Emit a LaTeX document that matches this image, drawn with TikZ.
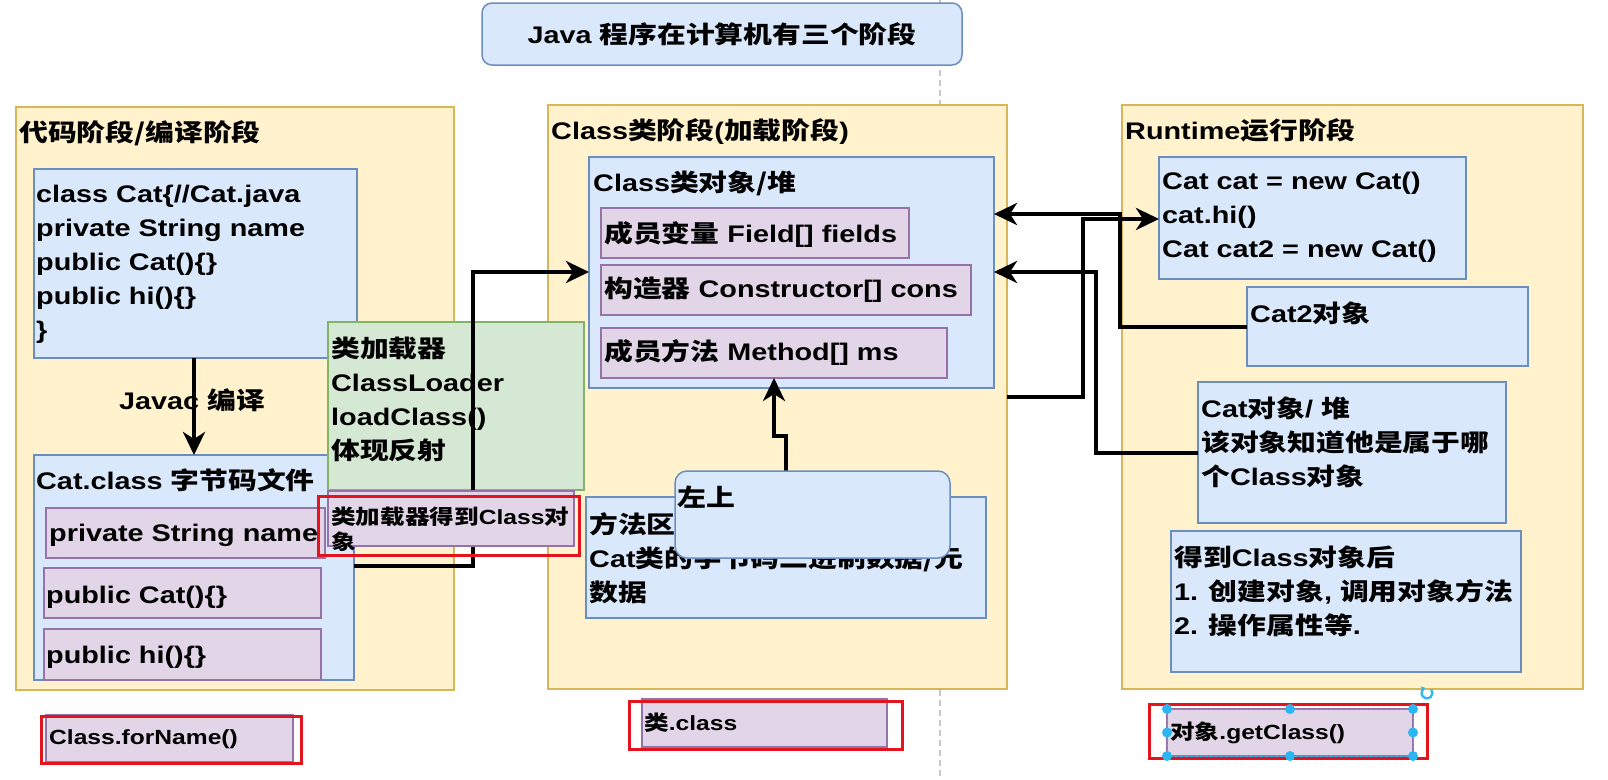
\documentclass[tikz,border=0pt]{standalone}
\usepackage{fontspec}
\setmainfont{Liberation Sans}[FakeStretch=1.2]
\newfontfamily\cjkf{Noto Sans CJK SC}[FakeStretch=1.2]
\newcommand\zh[1]{{\cjkf #1}}
\usetikzlibrary{arrows.meta}
\definecolor{ylwF}{HTML}{FFF2CC}
\definecolor{ylwD}{HTML}{D6B656}
\definecolor{bluF}{HTML}{DAE8FC}
\definecolor{bluD}{HTML}{6C8EBF}
\definecolor{grnF}{HTML}{D5E8D4}
\definecolor{grnD}{HTML}{82B366}
\definecolor{purF}{HTML}{E1D5E7}
\definecolor{purD}{HTML}{9673A6}
\definecolor{redD}{HTML}{E3141E}
\definecolor{selB}{HTML}{29B6F2}
\definecolor{sepG}{HTML}{C8C8C8}
\tikzset{
  panel/.style={fill=ylwF, draw=ylwD, line width=1.5pt},
  bluebox/.style={fill=bluF, draw=bluD, line width=1.5pt},
  greenbox/.style={fill=grnF, draw=grnD, line width=1.5pt},
  purplebox/.style={fill=purF, draw=purD, line width=1.5pt},
  redmark/.style={draw=redD, line width=3pt},
  txt/.style={anchor=west, inner sep=0pt, align=left, font=\fontsize{24}{34}\selectfont\bfseries},
  smalltxt/.style={anchor=west, inner sep=0pt, align=left, font=\fontsize{20.5}{25}\selectfont\bfseries},
  conn/.style={line width=4.5pt, -{Stealth[length=23pt,width=22pt,inset=7pt]}},
  handle/.style={fill=selB, draw=none},
}
\newcommand\mkbox[6]{\node[#1, anchor=north west, inner sep=0pt, outer sep=0pt, minimum width=#5pt-#3pt, minimum height=#6pt-#4pt] (#2) at (#3,#4) {};}
\begin{document}
\begin{tikzpicture}[x=1pt,y=-1pt]
\useasboundingbox (0,0) rectangle (1608,779);
% separator
\draw[sepG, line width=1.2pt, dash pattern=on 6pt off 4pt] (940,0) -- (940,779);
% title
\mkbox{bluebox,rounded corners=10pt}{title}{482}{3}{962}{65}
\node[txt, anchor=center] (titleT) at (722,34) {Java \zh{程序在计算机有三个阶段}};
% panels
\mkbox{panel}{pL}{16}{107}{454}{690}
\mkbox{panel}{pM}{548}{105}{1007}{689}
\mkbox{panel}{pR}{1122}{105}{1583}{689}
\node[txt] (pLT) at (19,133) {\zh{代码阶段/编译阶段}};
\node[txt] (pMT) at (551,132) {Class\zh{类阶段}(\zh{加载阶段})};
\node[txt] (pRT) at (1125,130) {Runtime\zh{运行阶段}};
% left column
\mkbox{bluebox}{code}{34}{169}{357}{358}
\node[txt] (codeT) at (36,264.5) {class Cat\{//Cat.java\\private String name\\public Cat()\{\}\\public hi()\{\}\\\}};
\mkbox{bluebox}{bytecode}{34}{455}{354}{680}
\node[txt] (bytecodeT) at (36,480) {Cat.class \zh{字节码文件}};
\mkbox{purplebox}{fName}{46}{508}{325}{558}
\node[txt] (fNameT) at (49,535) {private String name};
\mkbox{purplebox}{fCons}{44}{568}{321}{618}
\node[txt] (fConsT) at (46,597) {public Cat()\{\}};
\mkbox{purplebox}{fHi}{44}{629}{321}{680}
\node[txt] (fHiT) at (46,657) {public hi()\{\}};
\node[txt, anchor=center] (javacT) at (192,400) {Javac \zh{编译}};
\draw[conn] (code.south west) ++(160,0) coordinate (a1) -- (a1 |- bytecode.north);
\mkbox{greenbox}{loader}{328}{322}{584}{490}
\node[txt] (loaderT) at (331,399) {\zh{类加载器}\\ClassLoader\\loadClass()\\\zh{体现反射}};
% middle column
\mkbox{bluebox}{clsobj}{589}{157}{994}{388}
\node[txt] (clsobjT) at (593,183) {Class\zh{类对象/堆}};
\mkbox{purplebox}{field}{601}{208}{909}{258}
\node[txt] (fieldT) at (604,235) {\zh{成员变量} Field[] fields};
\mkbox{purplebox}{cons}{601}{265}{971}{315}
\node[txt] (consT) at (604,290) {\zh{构造器} Constructor[] cons};
\mkbox{purplebox}{meth}{601}{328}{947}{378}
\node[txt] (methT) at (604,353) {\zh{成员方法} Method[] ms};
\mkbox{bluebox}{marea}{586}{497}{986}{618}
\node[txt] (mareaT) at (589,558) {\zh{方法区}\\Cat\zh{类的字节码二进制数据/元}\\\zh{数据}};
\coordinate (m1) at (786,436);
\coordinate (m2) at (774,436);
\draw[conn] (m1 |- 0,471) -- (m1) -- (m2) -- (meth.south -| m2);
\mkbox{bluebox,rounded corners=12pt}{zuoshang}{675}{471}{950}{558}
\node[txt] (zuoshangT) at (677,497) {\zh{左上}};
% connector bytecode -> class object
\coordinate (k1) at (473,566);
\coordinate (k2) at (473,272);
\draw[conn] (bytecode.east |- k1) -- (k1) -- (k2) -- (clsobj.west |- k2);
\mkbox{purplebox}{gotcls}{328}{491}{574}{546}
\node[smalltxt] (gotclsT) at (331,529.5) {\zh{类加载器得到}Class\zh{对}\\\zh{象}};
\mkbox{redmark}{gotclsR}{318}{496}{579}{555}
% right column
\mkbox{bluebox}{catbox}{1159}{157}{1466}{279}
\node[txt] (catboxT) at (1162,217) {Cat cat = new Cat()\\cat.hi()\\Cat cat2 = new Cat()};
\mkbox{bluebox}{cat2}{1247}{287}{1528}{366}
\node[txt] (cat2T) at (1250,313) {Cat2\zh{对象}};
\mkbox{bluebox}{catobj}{1198}{382}{1506}{523}
\node[txt] (catobjT) at (1201,442) {Cat\zh{对象}/ \zh{堆}\\\zh{该对象知道他是属于哪}\\\zh{个}Class\zh{对象}};
\mkbox{bluebox}{after}{1171}{531}{1521}{672}
\node[txt] (afterT) at (1174,591) {\zh{得到}Class\zh{对象后}\\1. \zh{创建对象}, \zh{调用对象方法}\\2. \zh{操作属性等}.};
% connectors middle <-> right
\coordinate (r1) at (1083,397);
\coordinate (r2) at (1083,219);
\draw[conn] (pM.east |- r1) -- (r1) -- (r2) -- (catbox.west |- r2);
\coordinate (s1) at (1120,327);
\coordinate (s2) at (1120,214);
\draw[conn] (cat2.west |- s1) -- (s1) -- (s2) -- (clsobj.east |- s2);
\coordinate (t1) at (1096,453);
\coordinate (t2) at (1096,272);
\draw[conn] (catobj.west |- t1) -- (t1) -- (t2) -- (clsobj.east |- t2);
% bottom items
\mkbox{purplebox}{forname}{46}{715}{293}{762}
\node[smalltxt] (fornameT) at (49,739) {Class.forName()};
\mkbox{redmark}{fornameR}{41}{716}{301}{763}
\mkbox{purplebox}{dotclass}{642}{699}{887}{747}
\node[smalltxt] (dotclassT) at (644,723) {\zh{类}.class};
\mkbox{redmark}{dotclassR}{629}{701}{902}{749}
\mkbox{purplebox}{getcls}{1167}{709}{1413}{756}
\node[smalltxt] (getclsT) at (1170,733) {\zh{对象}.getClass()};
\mkbox{redmark}{getclsR}{1149}{704}{1427}{758}
\draw[selB, line width=1pt, dash pattern=on 3pt off 2pt] (getcls.north west) rectangle (getcls.south east);
\foreach \p in {north west,north,north east,west,east,south west,south,south east}
  \fill[handle] (getcls.\p) circle[radius=5];
\draw[selB, line width=2.2pt, -{Stealth[length=4pt,width=6pt]}] (1427,693) ++(-40:5.5) arc[start angle=-40, end angle=250, radius=5.5];
\end{tikzpicture}
\end{document}
